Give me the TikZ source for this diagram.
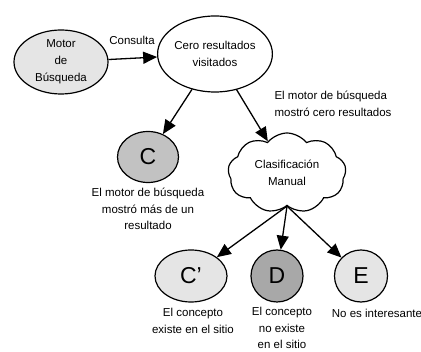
\documentclass[tikz,border=0pt]{standalone}
\usepackage{fontspec}
\setmainfont{Liberation Sans}
\usetikzlibrary{arrows.meta,shapes.geometric,shapes.symbols}
\definecolor{grisClaro}{gray}{0.90}
\definecolor{grisMedio}{gray}{0.76}
\definecolor{grisOscuro}{gray}{0.66}

\begin{document}
\begin{tikzpicture}[x=1pt,y=-1pt,
  estado/.style={draw, line width=1.2pt, ellipse, align=center, inner sep=0pt,
    font=\fontsize{11.5}{17}\selectfont},
  letra/.style={estado, font=\fontsize{23}{26}\selectfont},
  flecha/.style={-{Triangle[length=14pt,width=12pt]}, line width=1.3pt},
  nota/.style={align=center, font=\fontsize{11.5}{16.5}\selectfont}
]
  \useasboundingbox (0,0) rectangle (421,352);

  %Motor de busqueda
  \node [estado, fill=grisClaro, minimum width=94, minimum height=64] (motor) at (61,62) {Motor\\de\\Búsqueda};
  %Cero resultados
  \node [estado, fill=white, minimum width=110, minimum height=76] (cero) at (215,54) {Cero resultados\\visitados};
  \draw [flecha] (motor) -- (cero);
  \node [nota] (consulta) at (132,40) {Consulta};

  %C
  \node [letra, fill=grisMedio, minimum width=61, minimum height=51] (c) at (148,157) {C};
  \node [nota] (cNota) at (148,209) {El motor de búsqueda\\mostró más de un\\resultado};
  \draw [flecha] (cero) -- (c);

  %Clasificacion manual
  \node [draw, line width=1.2pt, cloud, cloud puffs=9, cloud puff arc=105, aspect=1.5,
    minimum width=118, minimum height=80, align=center, inner sep=0pt,
    font=\fontsize{11.5}{17}\selectfont] (manual) at (287,173) {Clasificación\\Manual};
  \draw [flecha] (cero) -- (manual);
  \node [nota, align=left, anchor=west] (ceroNota) at (271,104) {El motor de búsqueda\\mostró cero resultados};

  %C', D, E
  \node [letra, fill=grisClaro, minimum width=72, minimum height=52] (cp) at (191,276) {C’};
  \node [letra, fill=grisOscuro, minimum width=52, minimum height=52] (d) at (277,276) {D};
  \node [letra, fill=grisClaro, minimum width=53, minimum height=52] (e) at (361,276) {E};
  \draw [flecha] (manual.south) -- (cp);
  \draw [flecha] (manual.south) -- (d);
  \draw [flecha] (manual.south) -- (e);
  \node [nota] (cpNota) at (193,321) {El concepto\\existe en el sitio};
  \node [nota] (dNota) at (282,328) {El concepto\\no existe\\en el sitio};
  \node [nota] (eNota) at (377,313) {No es interesante};
\end{tikzpicture}
\end{document}
